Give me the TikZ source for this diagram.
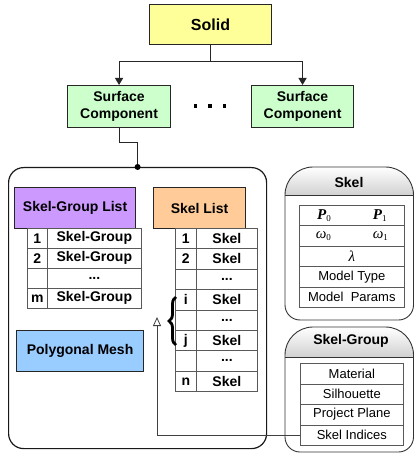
\documentclass[tikz,border=0pt]{standalone}
\usepackage{fontspec}
\setmainfont{Liberation Sans}
\newfontfamily\tmsfont{Liberation Serif}
\usetikzlibrary{arrows.meta,decorations.pathreplacing}
\definecolor{solidY}{HTML}{FFFF99}
\definecolor{surfG}{HTML}{CCFFCC}
\definecolor{listP}{HTML}{CC99FF}
\definecolor{listO}{HTML}{FFCC99}
\definecolor{meshB}{HTML}{99CCFF}
\newcommand{\tdots}{...}
\newcommand{\symsub}[2]{{\tmsfont #1}\raisebox{-2.5pt}{\tmsfont\fontsize{9}{9}\selectfont #2}}
\begin{document}
\begin{tikzpicture}[x=1pt,y=-1pt,
  box/.style={draw=black!85,line width=1.1pt,inner sep=0pt,anchor=north west,align=center,font=\fontsize{14}{17}\selectfont\bfseries},
  cell/.style={draw=black!65,line width=0.7pt,inner sep=0pt,anchor=north west,font=\fontsize{14}{17}\selectfont\bfseries},
  rcell/.style={draw=black!65,line width=0.7pt,inner sep=0pt,anchor=north west,font=\fontsize{13}{15}\selectfont},
  conn/.style={line width=1.1pt,draw=black!85},
  hdr/.style={font=\fontsize{14}{17}\selectfont\bfseries,inner sep=0pt}]
\useasboundingbox (0,0) rectangle (415,454);

% top hierarchy
\node[box,fill=solidY,minimum width=122pt,minimum height=40pt,font=\fontsize{16}{19}\selectfont\bfseries] (solid) at (149,4) {Solid};
\node[box,fill=surfG,minimum width=103pt,minimum height=42pt] (sc1) at (67,85) {Surface\\Component};
\node[box,fill=surfG,minimum width=102pt,minimum height=42pt] (sc2) at (251,85) {Surface\\Component};
\node[inner sep=0pt] (dots) at (210,106) {\rule{3.5pt}{3.5pt}\hspace{11pt}\rule{3.5pt}{3.5pt}\hspace{11pt}\rule{3.5pt}{3.5pt}};
\draw[conn,-{Triangle[length=7pt,width=8pt]}] (solid.south) -- ++(0,16) -| (sc1.north);
\draw[conn,-{Triangle[length=7pt,width=8pt]}] (solid.south) -- ++(0,16) -| (sc2.north);

% big rounded box
\node[draw=black!90,line width=1.2pt,rounded corners=15pt,minimum width=258pt,minimum height=281pt,anchor=north west,inner sep=0pt] (big) at (8,167) {};
\draw[conn] (sc1.south) -- ++(0,14) -| (big.north);
\fill[black] (big.north) circle (3pt);

% Skel-Group List
\node[box,fill=listP,minimum width=121pt,minimum height=41pt] (sgl) at (14,187) {Skel-Group List};
\foreach [count=\i from 0] \n/\lbl in {1/Skel-Group,2/Skel-Group,{}/\tdots,m/Skel-Group} {
  \node[cell,minimum width=20pt,minimum height=20pt] (sgn\i) at (27,228+20*\i) {\n};
  \node[cell,minimum width=94pt,minimum height=20pt] (sgt\i) at (47,228+20*\i) {\lbl};
}

% Skel List
\node[box,fill=listO,minimum width=92pt,minimum height=41pt] (skl) at (153,187) {Skel List};
\foreach [count=\i from 0] \n/\lbl in {1/Skel,2/Skel,{}/\tdots,i/Skel,{}/\tdots,j/Skel,{}/\tdots,n/Skel} {
  \node[cell,minimum width=21pt,minimum height=20.4pt] (skn\i) at (175,228+20.4*\i) {\n};
  \node[cell,minimum width=61pt,minimum height=20.4pt] (skt\i) at (196,228+20.4*\i) {\lbl};
}

% Polygonal mesh
\node[box,fill=meshB,minimum width=127pt,minimum height=41pt] (mesh) at (16,330) {Polygonal Mesh};

% brace
\draw[line width=2.8pt,decorate,decoration={brace,amplitude=7pt}] (176,345) -- (176,297);

% Skel box (right)
\shade[top color=white,bottom color=black!18] (285,195) -- (285,195) arc[start angle=180,end angle=270,radius=28] -- (385.5,167) arc[start angle=270,end angle=360,radius=28] -- (413.5,195) -- cycle;
\draw[line width=0.9pt,draw=black!80] (285,305) -- (285,195) arc[start angle=180,end angle=270,radius=28] -- (385.5,167) arc[start angle=270,end angle=360,radius=28] -- (413.5,305) arc[start angle=0,end angle=90,radius=15] -- (300,320) arc[start angle=90,end angle=180,radius=15] -- cycle;
\draw[line width=0.9pt,draw=black!80] (285,195) -- (413.5,195);
\node[hdr] (skelhdr) at (349,182) {Skel};
\node[rcell,minimum width=105pt,minimum height=20.4pt,font=\fontsize{15}{17}\selectfont\bfseries\itshape] (sr0) at (299,205) {\symsub{P}{\upshape\mdseries 0}\hspace{42pt}\symsub{P}{\upshape\mdseries 1}};
\node[rcell,minimum width=105pt,minimum height=20.4pt,font=\fontsize{15}{17}\selectfont\itshape] (sr1) at (299,225.4) {\symsub{ω}{\upshape 0}\hspace{42pt}\symsub{ω}{\upshape 1}};
\node[rcell,minimum width=105pt,minimum height=20.4pt,font=\fontsize{15}{17}\selectfont\itshape] (sr2) at (299,245.8) {{\tmsfont λ}};
\node[rcell,minimum width=105pt,minimum height=20.4pt] (sr3) at (299,266.2) {Model Type};
\node[rcell,minimum width=105pt,minimum height=20.4pt] (sr4) at (299,286.6) {Model\ \ Params};

% Skel-Group box (right)
\shade[top color=white,bottom color=black!18] (285,357) -- (285,355) arc[start angle=180,end angle=270,radius=28] -- (385.5,327) arc[start angle=270,end angle=360,radius=28] -- (413.5,357) -- cycle;
\draw[line width=0.9pt,draw=black!80] (285,437) -- (285,355) arc[start angle=180,end angle=270,radius=28] -- (385.5,327) arc[start angle=270,end angle=360,radius=28] -- (413.5,437) arc[start angle=0,end angle=90,radius=15] -- (300,452) arc[start angle=90,end angle=180,radius=15] -- cycle;
\draw[line width=0.9pt,draw=black!80] (285,357) -- (413.5,357);
\node[hdr] (sghdr) at (351,341) {Skel-Group};
\foreach [count=\i from 0] \lbl in {Material,Silhouette,Project Plane,Skel Indices} {
  \node[rcell,minimum width=103pt,minimum height=20.5pt] (sgr\i) at (300,363+20.5*\i) {\lbl};
}

% reference connector
\draw[line width=0.8pt,draw=black!75,-{Triangle[open,length=9pt,width=8pt]}] (sgr3.west) -| (157,317);
\end{tikzpicture}
\end{document}
